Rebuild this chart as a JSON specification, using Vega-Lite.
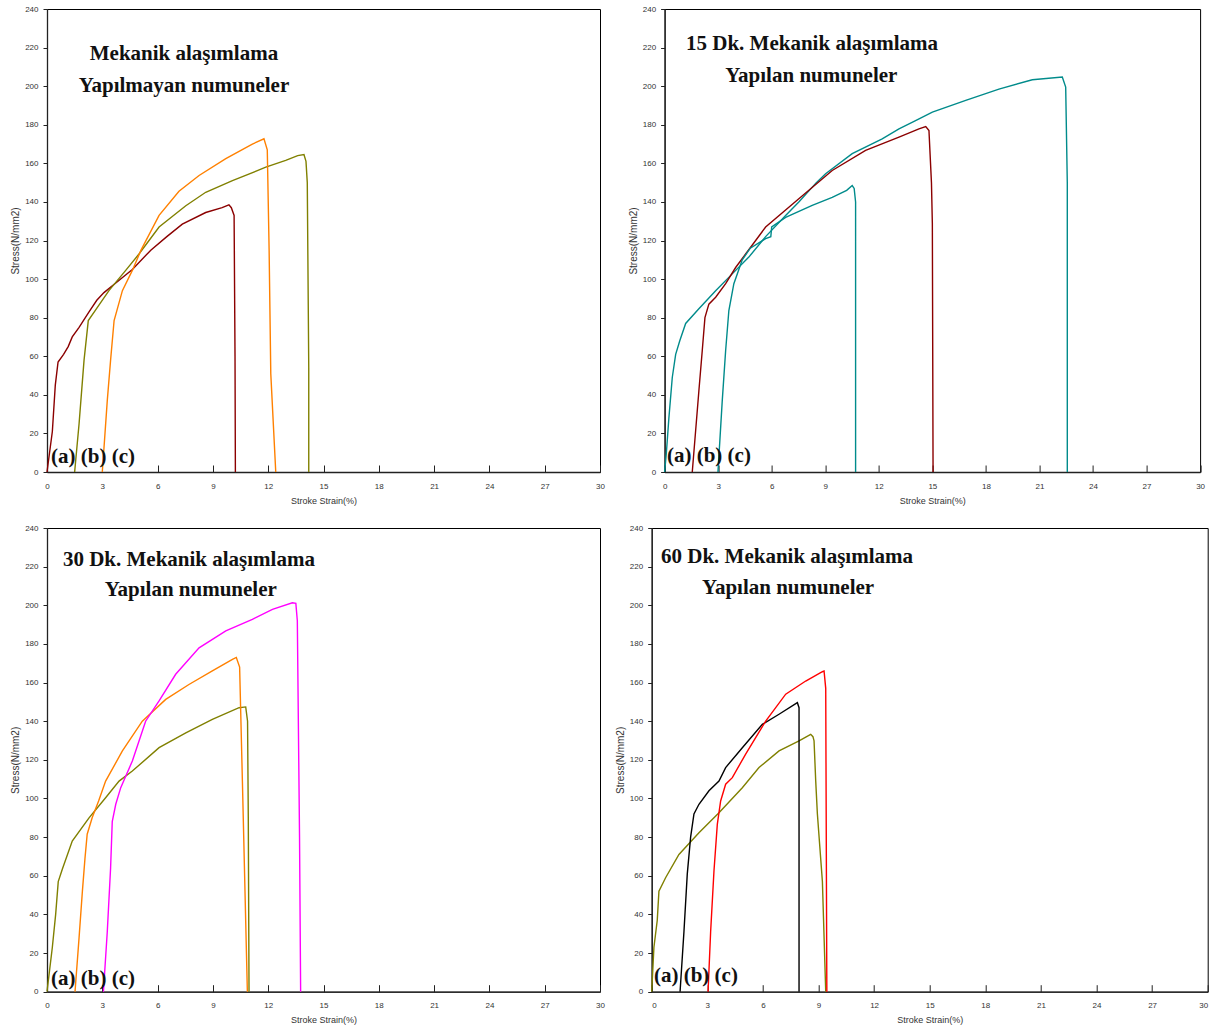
{
  "$schema": "https://vega.github.io/schema/vega-lite/v6.json",
  "padding": {"left": 10, "top": 4, "right": 0, "bottom": 0},
  "background": "white",
  "spacing": 17,
  "config": {
    "view": {"stroke": "#000", "strokeWidth": 1},
    "axis": {
      "grid": false,
      "labelFont": "Liberation Sans",
      "labelFontSize": 8,
      "labelColor": "#333",
      "labelOverlap": false,
      "domainColor": "#222",
      "domainWidth": 1.3,
      "tickColor": "#222",
      "titleFont": "Liberation Sans",
      "titleFontWeight": "normal",
      "titleColor": "#333"
    },
    "axisX": {"tickSize": -7, "labelPadding": 17, "titleFontSize": 9, "titlePadding": 6, "labelFlush": false, "tickCount": 11},
    "axisY": {"tickSize": 4, "labelPadding": 5, "titleFontSize": 10, "titlePadding": 4, "labelFlush": false, "tickCount": 13}
  },
  "datasets": {
    "curves": [
      {"p":1,"s":"1a","x":0,"y":0},{"p":1,"s":"1a","x":0.29,"y":21},{"p":1,"s":"1a","x":0.45,"y":45},{"p":1,"s":"1a","x":0.6,"y":57},{"p":1,"s":"1a","x":0.9,"y":61},{"p":1,"s":"1a","x":1.15,"y":65},{"p":1,"s":"1a","x":1.37,"y":70},{"p":1,"s":"1a","x":1.74,"y":75},{"p":1,"s":"1a","x":2.28,"y":83},{"p":1,"s":"1a","x":2.7,"y":89},{"p":1,"s":"1a","x":3.09,"y":93},{"p":1,"s":"1a","x":3.73,"y":98},{"p":1,"s":"1a","x":4.63,"y":105},{"p":1,"s":"1a","x":5.63,"y":115},{"p":1,"s":"1a","x":6.5,"y":122},{"p":1,"s":"1a","x":7.34,"y":128.5},{"p":1,"s":"1a","x":8.61,"y":134.5},{"p":1,"s":"1a","x":9.5,"y":137},{"p":1,"s":"1a","x":9.87,"y":138.5},{"p":1,"s":"1a","x":10.0,"y":137},{"p":1,"s":"1a","x":10.15,"y":133},{"p":1,"s":"1a","x":10.2,"y":60},{"p":1,"s":"1a","x":10.22,"y":0},
      {"p":1,"s":"1b","x":1.5,"y":0},{"p":1,"s":"1b","x":1.74,"y":25},{"p":1,"s":"1b","x":2.01,"y":58},{"p":1,"s":"1b","x":2.24,"y":78.5},{"p":1,"s":"1b","x":2.64,"y":84},{"p":1,"s":"1b","x":3.36,"y":94},{"p":1,"s":"1b","x":4.27,"y":104.5},{"p":1,"s":"1b","x":4.99,"y":113},{"p":1,"s":"1b","x":6.08,"y":127},{"p":1,"s":"1b","x":7.53,"y":138},{"p":1,"s":"1b","x":8.61,"y":145},{"p":1,"s":"1b","x":10.06,"y":151},{"p":1,"s":"1b","x":11.87,"y":158},{"p":1,"s":"1b","x":12.95,"y":161.5},{"p":1,"s":"1b","x":13.6,"y":164},{"p":1,"s":"1b","x":13.94,"y":164.5},{"p":1,"s":"1b","x":14.05,"y":161},{"p":1,"s":"1b","x":14.12,"y":150},{"p":1,"s":"1b","x":14.2,"y":54},{"p":1,"s":"1b","x":14.2,"y":0},
      {"p":1,"s":"1c","x":3.0,"y":0},{"p":1,"s":"1c","x":3.27,"y":37},{"p":1,"s":"1c","x":3.45,"y":58},{"p":1,"s":"1c","x":3.64,"y":78.5},{"p":1,"s":"1c","x":4.09,"y":94},{"p":1,"s":"1c","x":4.63,"y":104.5},{"p":1,"s":"1c","x":5.1,"y":115},{"p":1,"s":"1c","x":6.08,"y":133},{"p":1,"s":"1c","x":7.16,"y":145.5},{"p":1,"s":"1c","x":8.25,"y":153.7},{"p":1,"s":"1c","x":9.7,"y":162.4},{"p":1,"s":"1c","x":11.14,"y":170},{"p":1,"s":"1c","x":11.77,"y":172.7},{"p":1,"s":"1c","x":11.95,"y":167},{"p":1,"s":"1c","x":12.05,"y":115},{"p":1,"s":"1c","x":12.14,"y":51},{"p":1,"s":"1c","x":12.41,"y":0},
      {"p":2,"s":"2a","x":0,"y":0},{"p":2,"s":"2a","x":0.1,"y":10},{"p":2,"s":"2a","x":0.24,"y":28},{"p":2,"s":"2a","x":0.43,"y":49},{"p":2,"s":"2a","x":0.62,"y":61},{"p":2,"s":"2a","x":0.85,"y":68},{"p":2,"s":"2a","x":1.18,"y":77},{"p":2,"s":"2a","x":1.92,"y":84.6},{"p":2,"s":"2a","x":2.86,"y":94},{"p":2,"s":"2a","x":3.79,"y":102.7},{"p":2,"s":"2a","x":4.72,"y":111.4},{"p":2,"s":"2a","x":5.66,"y":122},{"p":2,"s":"2a","x":6.78,"y":133},{"p":2,"s":"2a","x":7.52,"y":140},{"p":2,"s":"2a","x":8.5,"y":150},{"p":2,"s":"2a","x":9.02,"y":154.6},{"p":2,"s":"2a","x":10.51,"y":165},{"p":2,"s":"2a","x":12.19,"y":172.7},{"p":2,"s":"2a","x":13.13,"y":177.9},{"p":2,"s":"2a","x":14.06,"y":182.2},{"p":2,"s":"2a","x":15.0,"y":186.5},{"p":2,"s":"2a","x":16.87,"y":192.6},{"p":2,"s":"2a","x":18.73,"y":198.5},{"p":2,"s":"2a","x":20.6,"y":203.3},{"p":2,"s":"2a","x":22.28,"y":204.7},{"p":2,"s":"2a","x":22.47,"y":199.5},{"p":2,"s":"2a","x":22.56,"y":150},{"p":2,"s":"2a","x":22.56,"y":0},
      {"p":2,"s":"2b","x":1.55,"y":0},{"p":2,"s":"2b","x":1.92,"y":42},{"p":2,"s":"2b","x":2.11,"y":63},{"p":2,"s":"2b","x":2.26,"y":80},{"p":2,"s":"2b","x":2.48,"y":87},{"p":2,"s":"2b","x":2.86,"y":90.6},{"p":2,"s":"2b","x":3.42,"y":97.6},{"p":2,"s":"2b","x":3.98,"y":106},{"p":2,"s":"2b","x":4.54,"y":113},{"p":2,"s":"2b","x":5.66,"y":127},{"p":2,"s":"2b","x":7.52,"y":141.6},{"p":2,"s":"2b","x":9.39,"y":156.3},{"p":2,"s":"2b","x":11.26,"y":166.7},{"p":2,"s":"2b","x":13.13,"y":173.6},{"p":2,"s":"2b","x":14.25,"y":177.9},{"p":2,"s":"2b","x":14.63,"y":179.1},{"p":2,"s":"2b","x":14.81,"y":177},{"p":2,"s":"2b","x":14.95,"y":150},{"p":2,"s":"2b","x":15.0,"y":128.7},{"p":2,"s":"2b","x":15.04,"y":0},
      {"p":2,"s":"2c","x":2.99,"y":0},{"p":2,"s":"2c","x":3.23,"y":37},{"p":2,"s":"2c","x":3.42,"y":63},{"p":2,"s":"2c","x":3.6,"y":83.7},{"p":2,"s":"2c","x":3.88,"y":97.6},{"p":2,"s":"2c","x":4.35,"y":110},{"p":2,"s":"2c","x":4.8,"y":116},{"p":2,"s":"2c","x":5.66,"y":121},{"p":2,"s":"2c","x":5.95,"y":122},{"p":2,"s":"2c","x":6.0,"y":127},{"p":2,"s":"2c","x":6.78,"y":132},{"p":2,"s":"2c","x":8.27,"y":138.2},{"p":2,"s":"2c","x":9.39,"y":142.4},{"p":2,"s":"2c","x":10.2,"y":146},{"p":2,"s":"2c","x":10.51,"y":148.5},{"p":2,"s":"2c","x":10.62,"y":147},{"p":2,"s":"2c","x":10.7,"y":140},{"p":2,"s":"2c","x":10.7,"y":0},
      {"p":3,"s":"3a","x":0,"y":0},{"p":3,"s":"3a","x":0.29,"y":23},{"p":3,"s":"3a","x":0.47,"y":40},{"p":3,"s":"3a","x":0.61,"y":57},{"p":3,"s":"3a","x":0.83,"y":63.4},{"p":3,"s":"3a","x":1.37,"y":78},{"p":3,"s":"3a","x":2.28,"y":90},{"p":3,"s":"3a","x":3.18,"y":100.4},{"p":3,"s":"3a","x":3.91,"y":109},{"p":3,"s":"3a","x":4.63,"y":114.2},{"p":3,"s":"3a","x":6.08,"y":126.3},{"p":3,"s":"3a","x":7.53,"y":134},{"p":3,"s":"3a","x":8.97,"y":141},{"p":3,"s":"3a","x":10.42,"y":147},{"p":3,"s":"3a","x":10.78,"y":147.4},{"p":3,"s":"3a","x":10.88,"y":140},{"p":3,"s":"3a","x":10.92,"y":90},{"p":3,"s":"3a","x":10.96,"y":0},
      {"p":3,"s":"3b","x":1.52,"y":0},{"p":3,"s":"3b","x":1.74,"y":28},{"p":3,"s":"3b","x":1.92,"y":52},{"p":3,"s":"3b","x":2.06,"y":69},{"p":3,"s":"3b","x":2.18,"y":81.5},{"p":3,"s":"3b","x":2.45,"y":90},{"p":3,"s":"3b","x":2.8,"y":98.7},{"p":3,"s":"3b","x":3.18,"y":109},{"p":3,"s":"3b","x":4.09,"y":124.6},{"p":3,"s":"3b","x":5.17,"y":140},{"p":3,"s":"3b","x":6.44,"y":151.3},{"p":3,"s":"3b","x":7.7,"y":159},{"p":3,"s":"3b","x":8.97,"y":166},{"p":3,"s":"3b","x":10.06,"y":172},{"p":3,"s":"3b","x":10.27,"y":173},{"p":3,"s":"3b","x":10.45,"y":168},{"p":3,"s":"3b","x":10.6,"y":109},{"p":3,"s":"3b","x":10.87,"y":0},
      {"p":3,"s":"3c","x":3.06,"y":0},{"p":3,"s":"3c","x":3.27,"y":31},{"p":3,"s":"3c","x":3.45,"y":64},{"p":3,"s":"3c","x":3.54,"y":88},{"p":3,"s":"3c","x":3.73,"y":97},{"p":3,"s":"3c","x":4.0,"y":105.6},{"p":3,"s":"3c","x":4.63,"y":119.4},{"p":3,"s":"3c","x":5.35,"y":140},{"p":3,"s":"3c","x":6.08,"y":150.5},{"p":3,"s":"3c","x":6.98,"y":164.3},{"p":3,"s":"3c","x":8.25,"y":178},{"p":3,"s":"3c","x":9.7,"y":186.7},{"p":3,"s":"3c","x":11.14,"y":192.7},{"p":3,"s":"3c","x":12.23,"y":197.9},{"p":3,"s":"3c","x":13.31,"y":201.3},{"p":3,"s":"3c","x":13.5,"y":201},{"p":3,"s":"3c","x":13.58,"y":192},{"p":3,"s":"3c","x":13.7,"y":80},{"p":3,"s":"3c","x":13.76,"y":0},
      {"p":4,"s":"4a","x":0,"y":0},{"p":4,"s":"4a","x":0.12,"y":23},{"p":4,"s":"4a","x":0.3,"y":37},{"p":4,"s":"4a","x":0.39,"y":52},{"p":4,"s":"4a","x":0.75,"y":59},{"p":4,"s":"4a","x":1.47,"y":71},{"p":4,"s":"4a","x":2.55,"y":82.3},{"p":4,"s":"4a","x":3.63,"y":92.6},{"p":4,"s":"4a","x":4.89,"y":105.6},{"p":4,"s":"4a","x":5.79,"y":116},{"p":4,"s":"4a","x":6.87,"y":124.6},{"p":4,"s":"4a","x":7.95,"y":129.8},{"p":4,"s":"4a","x":8.58,"y":133.2},{"p":4,"s":"4a","x":8.7,"y":132},{"p":4,"s":"4a","x":8.76,"y":129.8},{"p":4,"s":"4a","x":8.85,"y":109},{"p":4,"s":"4a","x":8.94,"y":92},{"p":4,"s":"4a","x":9.21,"y":57},{"p":4,"s":"4a","x":9.39,"y":0},
      {"p":4,"s":"4b","x":1.53,"y":0},{"p":4,"s":"4b","x":1.74,"y":31},{"p":4,"s":"4b","x":1.92,"y":61},{"p":4,"s":"4b","x":2.1,"y":80},{"p":4,"s":"4b","x":2.28,"y":92},{"p":4,"s":"4b","x":2.55,"y":97},{"p":4,"s":"4b","x":3.09,"y":104},{"p":4,"s":"4b","x":3.63,"y":109},{"p":4,"s":"4b","x":3.99,"y":116},{"p":4,"s":"4b","x":4.89,"y":126.3},{"p":4,"s":"4b","x":5.97,"y":138.4},{"p":4,"s":"4b","x":6.87,"y":143.6},{"p":4,"s":"4b","x":7.86,"y":149.6},{"p":4,"s":"4b","x":7.95,"y":147},{"p":4,"s":"4b","x":7.95,"y":0},
      {"p":4,"s":"4c","x":3.04,"y":0},{"p":4,"s":"4c","x":3.18,"y":31},{"p":4,"s":"4c","x":3.36,"y":62.5},{"p":4,"s":"4c","x":3.54,"y":86.6},{"p":4,"s":"4c","x":3.72,"y":98.7},{"p":4,"s":"4c","x":3.99,"y":107.4},{"p":4,"s":"4c","x":4.35,"y":110.8},{"p":4,"s":"4c","x":5.07,"y":123},{"p":4,"s":"4c","x":6.15,"y":140},{"p":4,"s":"4c","x":7.23,"y":154},{"p":4,"s":"4c","x":8.31,"y":160.8},{"p":4,"s":"4c","x":9.21,"y":165.6},{"p":4,"s":"4c","x":9.3,"y":166},{"p":4,"s":"4c","x":9.39,"y":157},{"p":4,"s":"4c","x":9.45,"y":0}
    ],
    "labels": [
      {"p":1,"k":"t","text":"Mekanik alaşımlama","x":7.43,"y":213.6},
      {"p":1,"k":"t","text":"Yapılmayan numuneler","x":7.43,"y":197},
      {"p":1,"k":"g","text":"(a) (b) (c)","x":0.22,"y":4.9},
      {"p":2,"k":"t","text":"15 Dk. Mekanik alaşımlama","x":8.26,"y":218.5},
      {"p":2,"k":"t","text":"Yapılan numuneler","x":8.22,"y":202},
      {"p":2,"k":"g","text":"(a) (b) (c)","x":0.13,"y":5.4},
      {"p":3,"k":"t","text":"30 Dk. Mekanik alaşımlama","x":7.7,"y":220.3},
      {"p":3,"k":"t","text":"Yapılan numuneler","x":7.8,"y":204.8},
      {"p":3,"k":"g","text":"(a) (b) (c)","x":0.22,"y":3.5},
      {"p":4,"k":"t","text":"60 Dk. Mekanik alaşımlama","x":7.3,"y":222},
      {"p":4,"k":"t","text":"Yapılan numuneler","x":7.36,"y":205.9},
      {"p":4,"k":"g","text":"(a) (b) (c)","x":0.12,"y":5}
    ]
  },
  "vconcat": [
    {
      "bounds": "flush",
      "spacing": 64.6,
      "hconcat": [
        {
          "width": 553, "height": 463,
          "layer": [
            {"data": {"name": "curves"}, "transform": [{"filter": "datum.p == 1"}],
             "mark": {"type": "line", "strokeWidth": 1.4},
             "encoding": {
               "x": {"field": "x", "type": "quantitative", "scale": {"domain": [0, 30], "nice": false}, "axis": {"values": [0,3,6,9,12,15,18,21,24,27,30], "tickCount": 11, "title": "Stroke Strain(%)", "labelOverlap": false}},
               "y": {"field": "y", "type": "quantitative", "scale": {"domain": [0, 240], "nice": false}, "axis": {"values": [0,20,40,60,80,100,120,140,160,180,200,220,240], "tickCount": 13, "title": "Stress(N/mm2)", "labelOverlap": false}},
               "color": {"field": "s", "type": "nominal", "legend": null, "scale": {"domain": ["1a","1b","1c","2a","2b","2c","3a","3b","3c","4a","4b","4c"], "range": ["#8B0000","#808000","#FF8000","#008B8B","#8B0000","#008B8B","#808000","#FF8000","#FF00FF","#808000","#000000","#FF0000"]}},
               "order": {"value": null}
             }},
            {"data": {"name": "labels"}, "transform": [{"filter": "datum.p == 1 && datum.k == 't'"}],
             "mark": {"type": "text", "font": "Liberation Serif", "fontWeight": "bold", "fontSize": 21, "align": "center", "baseline": "alphabetic", "color": "#111"},
             "encoding": {"x": {"field": "x", "type": "quantitative"}, "y": {"field": "y", "type": "quantitative"}, "text": {"field": "text"}}},
            {"data": {"name": "labels"}, "transform": [{"filter": "datum.p == 1 && datum.k == 'g'"}],
             "mark": {"type": "text", "font": "Liberation Serif", "fontWeight": "bold", "fontSize": 21, "align": "left", "baseline": "alphabetic", "color": "#111"},
             "encoding": {"x": {"field": "x", "type": "quantitative"}, "y": {"field": "y", "type": "quantitative"}, "text": {"field": "text"}}}
          ]
        },
        {
          "width": 535.5, "height": 463,
          "layer": [
            {"data": {"name": "curves"}, "transform": [{"filter": "datum.p == 2"}],
             "mark": {"type": "line", "strokeWidth": 1.4},
             "encoding": {
               "x": {"field": "x", "type": "quantitative", "scale": {"domain": [0, 30], "nice": false}, "axis": {"values": [0,3,6,9,12,15,18,21,24,27,30], "tickCount": 11, "title": "Stroke Strain(%)", "labelOverlap": false}},
               "y": {"field": "y", "type": "quantitative", "scale": {"domain": [0, 240], "nice": false}, "axis": {"values": [0,20,40,60,80,100,120,140,160,180,200,220,240], "tickCount": 13, "title": "Stress(N/mm2)", "labelOverlap": false}},
               "color": {"field": "s", "type": "nominal", "legend": null, "scale": {"domain": ["1a","1b","1c","2a","2b","2c","3a","3b","3c","4a","4b","4c"], "range": ["#8B0000","#808000","#FF8000","#008B8B","#8B0000","#008B8B","#808000","#FF8000","#FF00FF","#808000","#000000","#FF0000"]}},
               "order": {"value": null}
             }},
            {"data": {"name": "labels"}, "transform": [{"filter": "datum.p == 2 && datum.k == 't'"}],
             "mark": {"type": "text", "font": "Liberation Serif", "fontWeight": "bold", "fontSize": 21, "align": "center", "baseline": "alphabetic", "color": "#111"},
             "encoding": {"x": {"field": "x", "type": "quantitative"}, "y": {"field": "y", "type": "quantitative"}, "text": {"field": "text"}}},
            {"data": {"name": "labels"}, "transform": [{"filter": "datum.p == 2 && datum.k == 'g'"}],
             "mark": {"type": "text", "font": "Liberation Serif", "fontWeight": "bold", "fontSize": 21, "align": "left", "baseline": "alphabetic", "color": "#111"},
             "encoding": {"x": {"field": "x", "type": "quantitative"}, "y": {"field": "y", "type": "quantitative"}, "text": {"field": "text"}}}
          ]
        }
      ]
    },
    {
      "bounds": "flush",
      "spacing": 51.7,
      "hconcat": [
        {
          "width": 553, "height": 463.7,
          "layer": [
            {"data": {"name": "curves"}, "transform": [{"filter": "datum.p == 3"}],
             "mark": {"type": "line", "strokeWidth": 1.4},
             "encoding": {
               "x": {"field": "x", "type": "quantitative", "scale": {"domain": [0, 30], "nice": false}, "axis": {"values": [0,3,6,9,12,15,18,21,24,27,30], "tickCount": 11, "title": "Stroke Strain(%)", "labelOverlap": false}},
               "y": {"field": "y", "type": "quantitative", "scale": {"domain": [0, 240], "nice": false}, "axis": {"values": [0,20,40,60,80,100,120,140,160,180,200,220,240], "tickCount": 13, "title": "Stress(N/mm2)", "labelOverlap": false}},
               "color": {"field": "s", "type": "nominal", "legend": null, "scale": {"domain": ["1a","1b","1c","2a","2b","2c","3a","3b","3c","4a","4b","4c"], "range": ["#8B0000","#808000","#FF8000","#008B8B","#8B0000","#008B8B","#808000","#FF8000","#FF00FF","#808000","#000000","#FF0000"]}},
               "order": {"value": null}
             }},
            {"data": {"name": "labels"}, "transform": [{"filter": "datum.p == 3 && datum.k == 't'"}],
             "mark": {"type": "text", "font": "Liberation Serif", "fontWeight": "bold", "fontSize": 21, "align": "center", "baseline": "alphabetic", "color": "#111"},
             "encoding": {"x": {"field": "x", "type": "quantitative"}, "y": {"field": "y", "type": "quantitative"}, "text": {"field": "text"}}},
            {"data": {"name": "labels"}, "transform": [{"filter": "datum.p == 3 && datum.k == 'g'"}],
             "mark": {"type": "text", "font": "Liberation Serif", "fontWeight": "bold", "fontSize": 21, "align": "left", "baseline": "alphabetic", "color": "#111"},
             "encoding": {"x": {"field": "x", "type": "quantitative"}, "y": {"field": "y", "type": "quantitative"}, "text": {"field": "text"}}}
          ]
        },
        {
          "width": 556, "height": 463.7,
          "layer": [
            {"data": {"name": "curves"}, "transform": [{"filter": "datum.p == 4"}],
             "mark": {"type": "line", "strokeWidth": 1.4},
             "encoding": {
               "x": {"field": "x", "type": "quantitative", "scale": {"domain": [0, 30], "nice": false}, "axis": {"values": [0,3,6,9,12,15,18,21,24,27,30], "tickCount": 11, "title": "Stroke Strain(%)", "labelFlush": true, "labelOverlap": false}},
               "y": {"field": "y", "type": "quantitative", "scale": {"domain": [0, 240], "nice": false}, "axis": {"values": [0,20,40,60,80,100,120,140,160,180,200,220,240], "tickCount": 13, "title": "Stress(N/mm2)", "labelOverlap": false}},
               "color": {"field": "s", "type": "nominal", "legend": null, "scale": {"domain": ["1a","1b","1c","2a","2b","2c","3a","3b","3c","4a","4b","4c"], "range": ["#8B0000","#808000","#FF8000","#008B8B","#8B0000","#008B8B","#808000","#FF8000","#FF00FF","#808000","#000000","#FF0000"]}},
               "order": {"value": null}
             }},
            {"data": {"name": "labels"}, "transform": [{"filter": "datum.p == 4 && datum.k == 't'"}],
             "mark": {"type": "text", "font": "Liberation Serif", "fontWeight": "bold", "fontSize": 21, "align": "center", "baseline": "alphabetic", "color": "#111"},
             "encoding": {"x": {"field": "x", "type": "quantitative"}, "y": {"field": "y", "type": "quantitative"}, "text": {"field": "text"}}},
            {"data": {"name": "labels"}, "transform": [{"filter": "datum.p == 4 && datum.k == 'g'"}],
             "mark": {"type": "text", "font": "Liberation Serif", "fontWeight": "bold", "fontSize": 21, "align": "left", "baseline": "alphabetic", "color": "#111"},
             "encoding": {"x": {"field": "x", "type": "quantitative"}, "y": {"field": "y", "type": "quantitative"}, "text": {"field": "text"}}}
          ]
        }
      ]
    }
  ]
}
